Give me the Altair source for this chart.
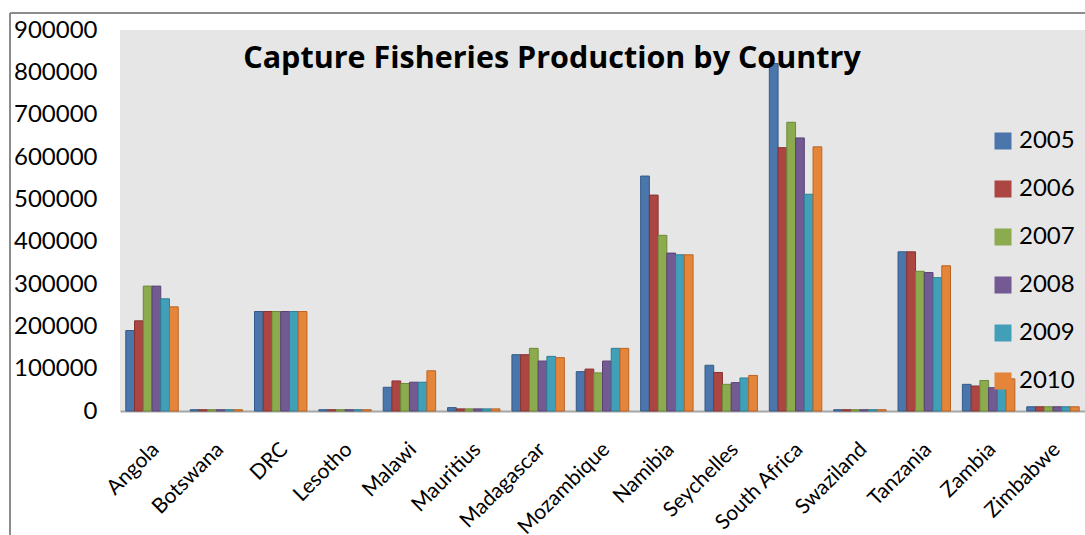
import altair as alt
import pandas as pd

countries = ["Angola", "Botswana", "DRC", "Lesotho", "Malawi", "Mauritius",
             "Madagascar", "Mozambique", "Namibia", "Seychelles", "South Africa",
             "Swaziland", "Tanzania", "Zambia", "Zimbabwe"]
years = ["2005", "2006", "2007", "2008", "2009", "2010"]

v2005 = [190000, 3000, 235000, 3000, 56000, 8000, 133000, 93000, 555000, 108000, 821000, 3000, 376000, 63000, 10000]
v2006 = [213000, 3000, 235000, 3000, 71000, 5000, 133000, 99000, 510000, 91000, 622000, 3000, 376000, 59000, 10000]
v2007 = [295000, 3000, 235000, 3000, 65000, 5000, 148000, 90000, 415000, 63000, 682000, 3000, 330000, 72000, 10000]
v2008 = [295000, 3000, 235000, 3000, 68000, 5000, 118000, 118000, 373000, 67000, 645000, 3000, 327000, 55000, 10000]
v2009 = [265000, 3000, 235000, 3000, 68000, 5000, 129000, 148000, 369000, 78000, 512000, 3000, 315000, 83000, 10000]
v2010 = [246000, 3000, 235000, 3000, 95000, 5000, 126000, 148000, 369000, 84000, 624000, 3000, 343000, 76000, 10000]

series = dict(zip(years, [v2005, v2006, v2007, v2008, v2009, v2010]))
title_text = "Capture Fisheries Production by Country"

fill_colors = ["#4a76ac", "#ac4643", "#8cab4f", "#735a93", "#41a0b8", "#e5853a"]
stroke_colors = ["#335a88", "#873230", "#6b8a36", "#574274", "#2e7f94", "#bb6424"]

rows = []
for y in years:
    for c, v in zip(countries, series[y]):
        rows.append({"country": c, "year": y, "value": v})
df = pd.DataFrame(rows)

W, H = 965, 381

bars = alt.Chart(df).mark_bar(strokeWidth=1).encode(
    x=alt.X("country:N", sort=countries,
            scale=alt.Scale(paddingInner=0.185, paddingOuter=0.09),
            axis=alt.Axis(title=None, labelAngle=-45, labelAlign="right",
                          labelBaseline="middle", labelFontSize=21,
                          labelFont="Lato", labelColor="#000000",
                          labelPadding=35, labelOffset=4, ticks=False,
                          domainColor="#a6a6a6", domainWidth=2, labelOverlap=False)),
    xOffset=alt.XOffset("year:N", sort=years, scale=alt.Scale(paddingInner=0, paddingOuter=0)),
    y=alt.Y("value:Q", scale=alt.Scale(domain=[0, 900000], nice=False),
            axis=alt.Axis(title=None, values=list(range(0, 900001, 100000)),
                          format="d", grid=False, domain=False, ticks=False,
                          labelFontSize=24, labelFont="Lato", labelColor="#000000",
                          labelPadding=23)),
    color=alt.Color("year:N", sort=years,
                    scale=alt.Scale(domain=years, range=fill_colors),
                    legend=alt.Legend(title=None, orient="none", legendX=871, legendY=99,
                                      symbolType="square", symbolSize=289,
                                      symbolStrokeWidth=0, labelFontSize=24,
                                      labelFont="Lato", labelColor="#000000",
                                      labelOffset=4, rowPadding=24)),
    stroke=alt.Stroke("year:N", sort=years,
                      scale=alt.Scale(domain=years, range=stroke_colors), legend=None),
)

title_df = pd.DataFrame({"t": [title_text]})
title = alt.Chart(title_df).mark_text(font="Open Sans", fontSize=30.5, fontWeight="bold",
                                      color="#000000", align="center",
                                      baseline="alphabetic").encode(
    text="t:N", x=alt.value(432), y=alt.value(38))

frame_df = pd.DataFrame({"k": [0]})
left_line = alt.Chart(frame_df).mark_rule(color="#8c8c8c", strokeWidth=2).encode(
    x=alt.value(-110), y=alt.value(-17), y2=alt.value(H + 130))
top_line = alt.Chart(frame_df).mark_rule(color="#8c8c8c", strokeWidth=2).encode(
    x=alt.value(-110), x2=alt.value(W + 10), y=alt.value(-17))

chart = alt.layer(bars, title, left_line, top_line).properties(
    width=W, height=H,
    autosize=alt.AutoSizeParams(type="none"),
    padding={"left": 120, "top": 30, "right": 0, "bottom": 124},
    background="#ffffff",
).configure_view(fill="#e6e6e6", stroke=None)

chart.save("out.html", embed_options={"renderer": "svg", "actions": False})
